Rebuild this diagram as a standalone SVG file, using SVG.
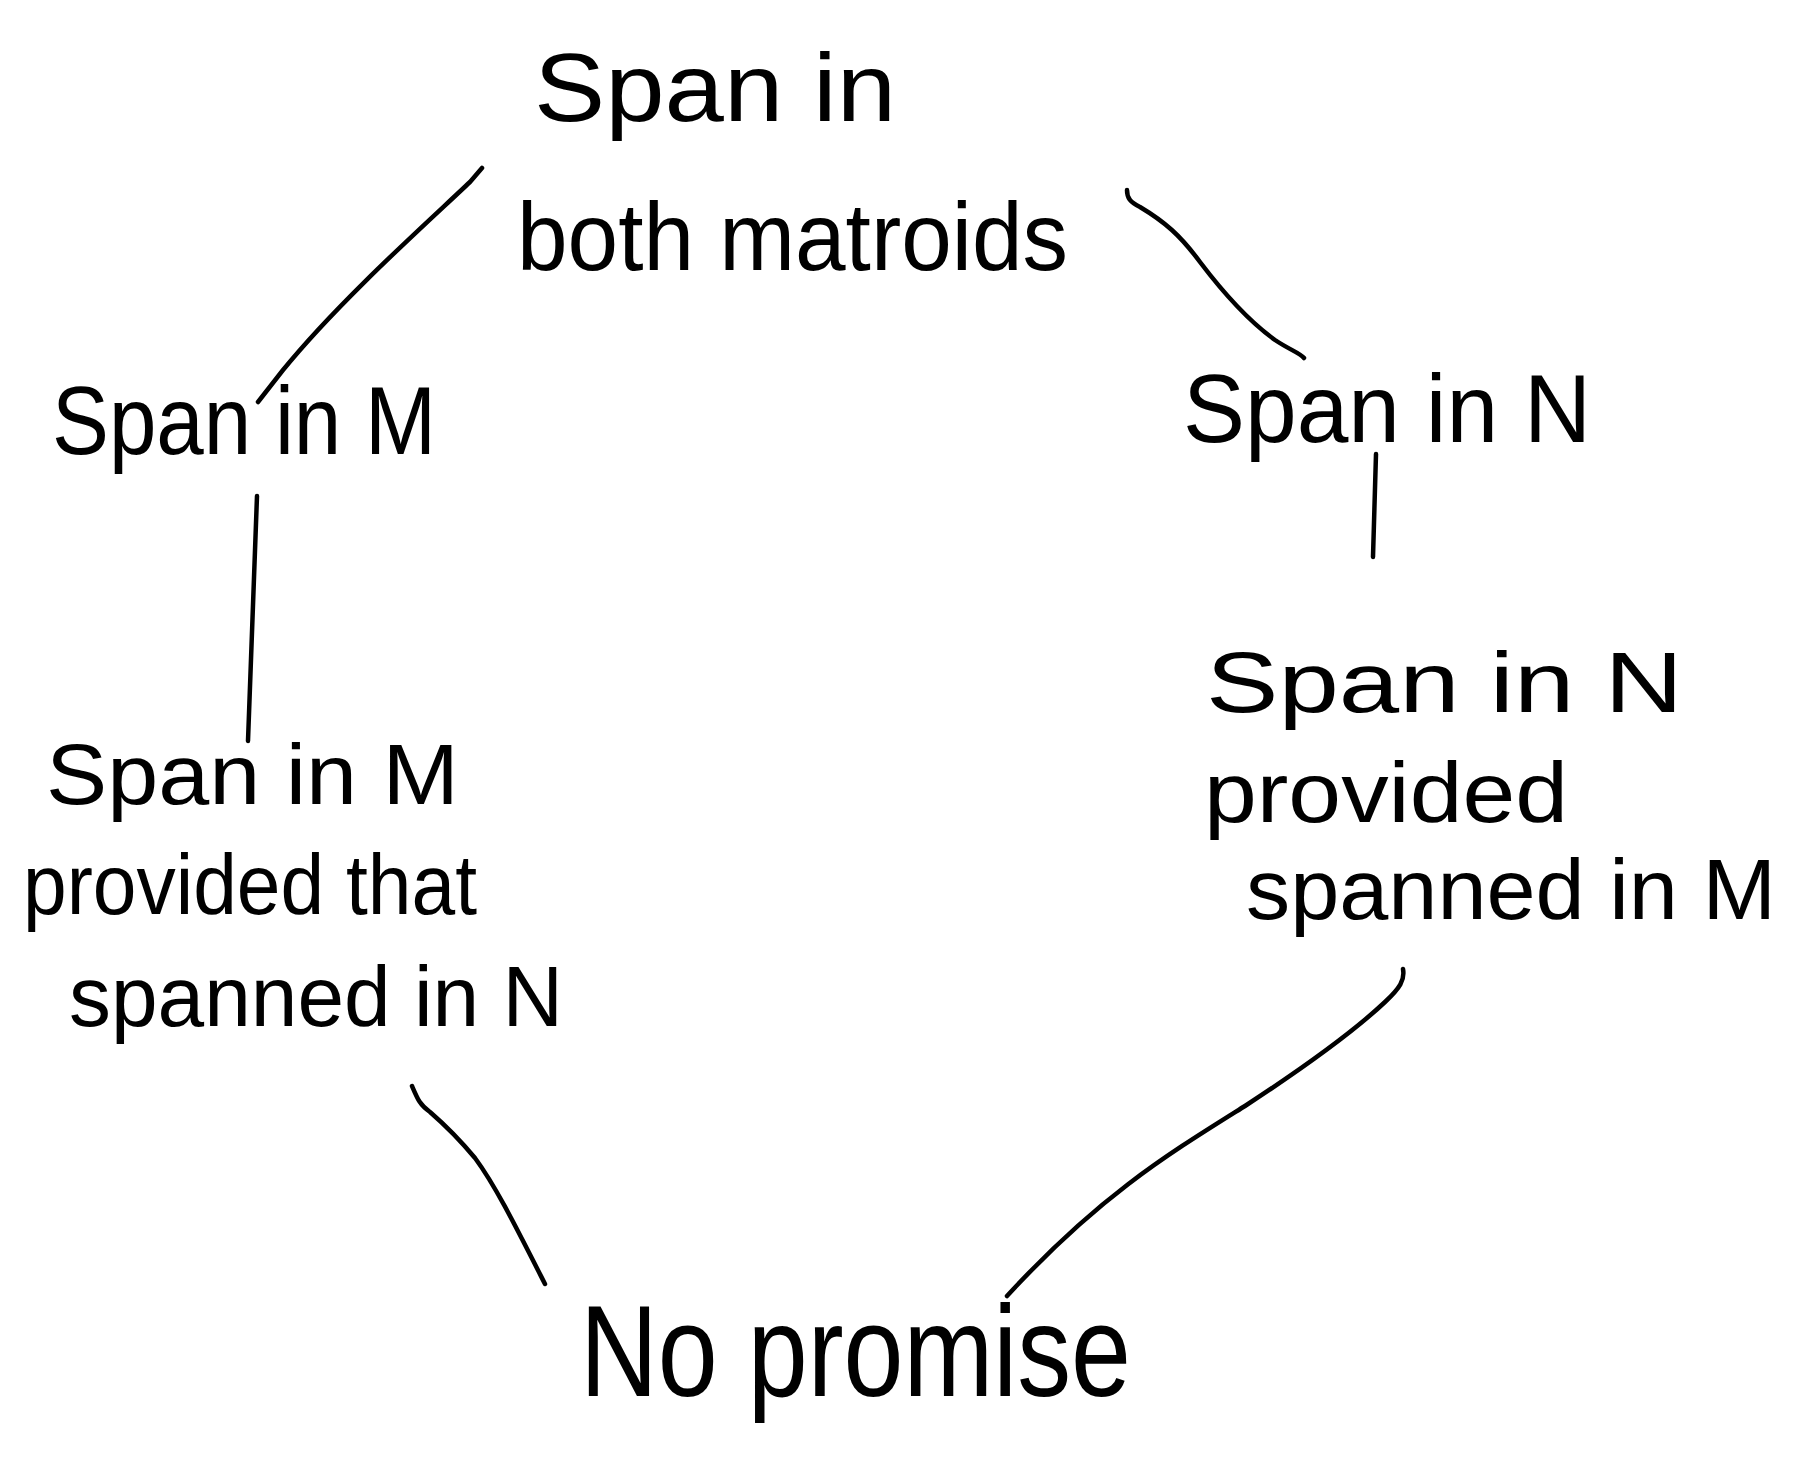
<svg xmlns="http://www.w3.org/2000/svg" width="1801" height="1481" viewBox="0 0 1801 1481">
<style>
text{font-family:"Liberation Sans","DejaVu Sans",sans-serif;fill:#000;}
.n{font-size:96px;}
.s{font-size:86px;}
.big{font-size:130px;}
.c{fill:none;stroke:#000;stroke-width:4.5;stroke-linecap:round;stroke-linejoin:round;}
</style>
<rect width="1801" height="1481" fill="#fff"/>
<g id="connectors">
<path class="c" d="M482,168 L470,182 C430,220 340,300 283,370 L258,402"/>
<path class="c" d="M1127,190 C1127,198 1130,202 1140,207 C1165,222 1180,235 1200,262 C1225,295 1250,322 1275,340 C1290,350 1300,353 1304,358"/>
<path class="c" d="M257,496 L248,741"/>
<path class="c" d="M1376,454 L1373,557"/>
<path class="c" d="M412,1086 C418,1100 420,1105 430,1112 C445,1125 460,1140 475,1158 C495,1185 515,1225 545,1284"/>
<path class="c" d="M1403,969 C1405,980 1400,988 1385,1002 C1350,1035 1300,1070 1245,1106 C1170,1153 1100,1195 1007,1296"/>
</g>
<g id="node-both">
<text class="n" x="534" y="121" textLength="362" lengthAdjust="spacingAndGlyphs">Span in</text>
<text class="n" x="517" y="270" textLength="551" lengthAdjust="spacingAndGlyphs">both matroids</text>
</g>
<g id="node-spanM">
<text class="n" x="52" y="454" textLength="384" lengthAdjust="spacingAndGlyphs">Span in M</text>
</g>
<g id="node-spanN">
<text class="n" x="1183" y="442" textLength="408" lengthAdjust="spacingAndGlyphs">Span in N</text>
</g>
<g id="node-spanM-provided">
<text class="s" x="46" y="804" textLength="413" lengthAdjust="spacingAndGlyphs">Span in M</text>
<text class="s" x="23" y="914" textLength="454" lengthAdjust="spacingAndGlyphs">provided that</text>
<text class="s" x="69" y="1026" textLength="494" lengthAdjust="spacingAndGlyphs">spanned in N</text>
</g>
<g id="node-spanN-provided">
<text class="s" x="1206" y="712" textLength="477" lengthAdjust="spacingAndGlyphs">Span in N</text>
<text class="s" x="1204" y="822" textLength="364" lengthAdjust="spacingAndGlyphs">provided</text>
<text class="s" x="1246" y="919" textLength="530" lengthAdjust="spacingAndGlyphs">spanned in M</text>
</g>
<g id="node-nopromise">
<text class="big" x="580" y="1396" textLength="551" lengthAdjust="spacingAndGlyphs">No promise</text>
</g>
</svg>
